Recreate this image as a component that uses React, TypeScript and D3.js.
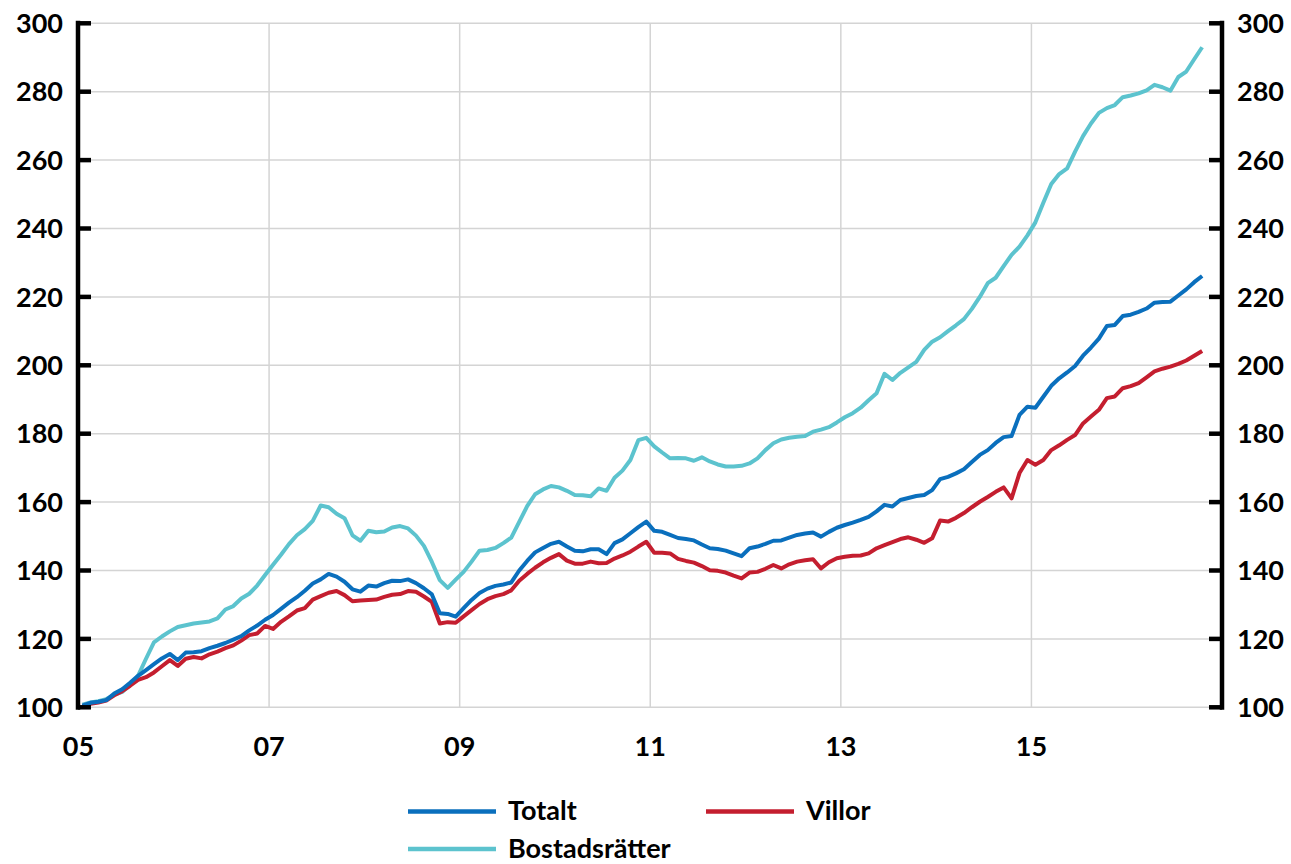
import React from "react";
import * as d3 from "d3";

// Monthly index, Jan 2005 = 0
const totalt = [
  100.5, 101.3, 101.6, 102.1, 104, 105.3, 107.2, 109.2, 110.9, 112.6, 114.3, 115.6,
  113.8, 116, 116.1, 116.4, 117.3, 118, 118.8, 119.8, 120.8, 122.5, 123.9, 125.6,
  127, 128.8, 130.6, 132.2, 134.1, 136.2, 137.4, 139, 138.2, 136.7, 134.5, 133.8,
  135.6, 135.3, 136.3, 137, 136.9, 137.4, 136.3, 134.8, 133, 127.5, 127.3, 126.5,
  129, 131.4, 133.4, 134.7, 135.5, 135.9, 136.5, 140, 142.8, 145.3, 146.6, 147.8,
  148.4, 147, 145.8, 145.6, 146.2, 146.2, 144.8, 148, 149.1, 150.9, 152.7, 154.3,
  151.6, 151.3, 150.4, 149.5, 149.2, 148.8, 147.6, 146.5, 146.3, 145.8, 145, 144.2,
  146.5, 147, 147.8, 148.7, 148.8, 149.6, 150.4, 150.8, 151.1, 149.9, 151.3, 152.5,
  153.3, 154, 154.8, 155.7, 157.3, 159.2, 158.7, 160.6, 161.2, 161.8, 162.1, 163.5,
  166.7, 167.4, 168.4, 169.6, 171.7, 173.8, 175.2, 177.3, 179, 179.3, 185.5, 187.9,
  187.6, 190.8, 194, 196.2, 197.9, 199.8, 202.8, 205.2, 207.8, 211.5, 211.8, 214.4,
  214.8, 215.6, 216.6, 218.3, 218.5, 218.6, 220.4, 222.2, 224.3, 226.1,
];

const villor = [
  100.3, 101, 101.4, 102, 103.5, 104.7, 106.3, 108, 108.8, 110.2, 112, 113.8,
  112.1, 114.2, 114.7, 114.3, 115.5, 116.3, 117.3, 118.1, 119.5, 121.1, 121.6, 123.8,
  122.9, 125, 126.6, 128.3, 129, 131.5, 132.5, 133.5, 134, 132.8, 131, 131.2,
  131.4, 131.5, 132.3, 132.9, 133.1, 134, 133.8, 132.4, 130.8, 124.5, 124.9, 124.7,
  126.6, 128.4, 130.2, 131.6, 132.5, 133.1, 134.2, 137, 139, 140.8, 142.4, 143.7,
  144.8, 142.9, 142, 142, 142.6, 142.1, 142.2, 143.5, 144.4, 145.5, 147, 148.4,
  145.2, 145.2, 145, 143.4, 142.8, 142.3, 141.3, 140.1, 139.9, 139.4, 138.5, 137.7,
  139.4, 139.6, 140.5, 141.6, 140.6, 141.8, 142.6, 143, 143.3, 140.6, 142.4, 143.6,
  144, 144.3, 144.4, 145, 146.5, 147.4, 148.3, 149.2, 149.7, 149, 148.1, 149.4,
  154.6, 154.3, 155.4, 156.8, 158.5, 160.1, 161.5, 163, 164.3, 161.1, 168.5, 172.3,
  170.9, 172.3, 175.2, 176.6, 178.2, 179.6, 183, 185, 187, 190.4, 190.9, 193.3,
  193.9, 194.8, 196.5, 198.2, 199, 199.6, 200.4, 201.4, 202.8, 204.2,
];

const bostadsratter = [
  100.8, 101.4, 101.8, 102.4, 103.6, 104.5, 106.5, 109.2, 114.2, 119, 120.7, 122.2,
  123.5, 124, 124.5, 124.8, 125.1, 126, 128.6, 129.6, 131.8, 133.2, 135.6, 138.7,
  141.7, 144.6, 147.7, 150.3, 152.1, 154.5, 159, 158.5, 156.6, 155.3, 150.3, 148.7,
  151.6, 151.2, 151.4, 152.6, 153, 152.3, 150.2, 147.2, 142.5, 137.2, 134.9, 137.3,
  139.6, 142.6, 145.8, 146, 146.6, 148, 149.6, 154.2, 158.8, 162.3, 163.7, 164.7,
  164.3, 163.3, 162.1, 162, 161.7, 164, 163.3, 167.1, 169.2, 172.3, 178.1, 178.8,
  176.3, 174.5, 172.8, 172.9, 172.8, 172.1, 173.1, 171.9, 171, 170.4, 170.4, 170.6,
  171.3, 172.8, 175.2, 177.2, 178.3, 178.8, 179.1, 179.3, 180.6, 181.2, 181.9, 183.3,
  184.8, 186, 187.6, 189.8, 191.8, 197.5, 195.7, 197.8, 199.4, 201, 204.5, 206.9,
  208.2, 210, 211.7, 213.5, 216.5, 220, 224, 225.6, 229, 232.3, 234.7, 238,
  241.8, 247.5, 253, 255.9, 257.6, 262.5, 267, 270.7, 273.8, 275.2, 276.1, 278.4,
  278.9, 279.5, 280.4, 282, 281.3, 280.3, 284.3, 285.9, 289.5, 293,
];

const xTickLabels = ["05", "07", "09", "11", "13", "15"];
const xTickMonths = [0, 24, 48, 72, 96, 120];
const yTicks = [100, 120, 140, 160, 180, 200, 220, 240, 260, 280, 300];

const seriesNames = ["Totalt", "Villor", "Bostadsrätter"];
const seriesColors = ["#0a6fbd", "#c41e2f", "#5cc3ce"];

const W = 1291;
const H = 864;
const FONT = "Lato, 'Liberation Sans', Arial, sans-serif";

export default function App() {
  const x = d3.scaleLinear().domain([0, 144]).range([78.5, 1222]);
  const y = d3.scaleLinear().domain([100, 300]).range([707.3, 23.3]);
  const leftX = 78;
  const rightX = 1222;

  const line = d3
    .line<number>()
    .x((_, i) => x(i + 0.5))
    .y((d) => y(d));

  const data = [totalt, villor, bostadsratter];
  const drawOrder = [2, 1, 0];

  return (
    <svg
      width={W}
      height={H}
      style={{ position: "absolute", left: 0, top: 0, background: "#fff" }}
      fontFamily={FONT}
    >
      <rect x={0} y={0} width={W} height={H} fill="#fff" />
      {yTicks.map((t) => (
        <line
          key={"hg" + t}
          x1={leftX}
          x2={rightX}
          y1={y(t)}
          y2={y(t)}
          stroke="#d4d4d4"
          strokeWidth={1.5}
        />
      ))}
      {xTickMonths.slice(1).map((m) => (
        <line
          key={"vg" + m}
          x1={x(m)}
          x2={x(m)}
          y1={y(300)}
          y2={y(100)}
          stroke="#d4d4d4"
          strokeWidth={1.5}
        />
      ))}
      {drawOrder.map((k) => (
        <path
          key={"s" + k}
          d={line(data[k]) || ""}
          fill="none"
          stroke={seriesColors[k]}
          strokeWidth={4}
          strokeLinejoin="round"
        />
      ))}
      <line x1={leftX} x2={leftX} y1={y(300) - 2.5} y2={y(100) + 2.5} stroke="#000" strokeWidth={4.5} />
      {yTicks.map((t) => (
        <line key={"lt" + t} x1={leftX} x2={leftX + 13} y1={y(t)} y2={y(t)} stroke="#000" strokeWidth={4.5} />
      ))}
      {yTicks.map((t) => (
        <text
          key={"ll" + t}
          x={63}
          y={y(t)}
          dy="0.36em"
          textAnchor="end"
          fontSize={27}
          fontWeight={700}
          fill="#000"
        >
          {t}
        </text>
      ))}
      <line x1={rightX} x2={rightX} y1={y(300) - 2.5} y2={y(100) + 2.5} stroke="#000" strokeWidth={4.5} />
      {yTicks.map((t) => (
        <line key={"rt" + t} x1={rightX - 13} x2={rightX} y1={y(t)} y2={y(t)} stroke="#000" strokeWidth={4.5} />
      ))}
      {yTicks.map((t) => (
        <text
          key={"rl" + t}
          x={1237}
          y={y(t)}
          dy="0.36em"
          textAnchor="start"
          fontSize={27}
          fontWeight={700}
          fill="#000"
        >
          {t}
        </text>
      ))}
      {xTickMonths.map((m, i) => (
        <text
          key={"xl" + m}
          x={x(m)}
          y={756}
          textAnchor="middle"
          fontSize={27}
          fontWeight={700}
          fill="#000"
        >
          {xTickLabels[i]}
        </text>
      ))}
      {[
        { k: 0, lx: 408, ly: 811.5 },
        { k: 1, lx: 706, ly: 811.5 },
        { k: 2, lx: 408, ly: 849 },
      ].map(({ k, lx, ly }) => (
        <g key={"lg" + k}>
          <line x1={lx} x2={lx + 88} y1={ly} y2={ly} stroke={seriesColors[k]} strokeWidth={4.5} />
          <text x={lx + 100} y={ly} dy="0.33em" fontSize={27} fontWeight={700} fill="#000">
            {seriesNames[k]}
          </text>
        </g>
      ))}
    </svg>
  );
}
